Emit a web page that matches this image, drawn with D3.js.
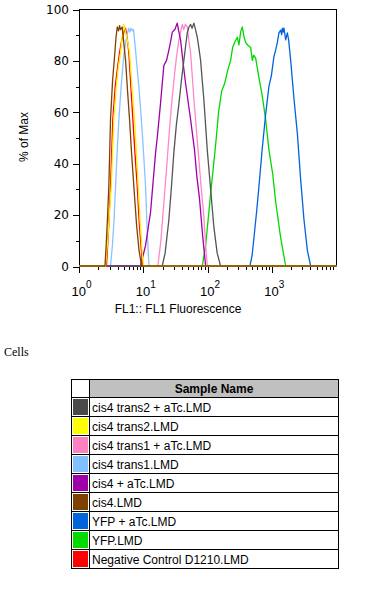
<!DOCTYPE html>
<html><head><meta charset="utf-8">
<script src="https://cdn.jsdelivr.net/npm/d3@7"></script>
<style>html,body{margin:0;padding:0;background:#fff;} svg{display:block;}</style>
</head><body>
<svg id="chart" width="380" height="589"></svg>
<script>
// ---- data (FL1 value, % of Max) ----
const sampleNames = [
  "cis4 trans2 + aTc.LMD",
  "cis4 trans2.LMD",
  "cis4 trans1 + aTc.LMD",
  "cis4 trans1.LMD",
  "cis4 + aTc.LMD",
  "cis4.LMD",
  "YFP + aTc.LMD",
  "YFP.LMD",
  "Negative Control D1210.LMD"
];
const sampleColors = ["#4a4a4a","#ffff00","#ff80c0","#80c0ff","#a000a8","#804000","#0064dc","#00d800","#ff0000"];
const lineColors   = ["#555555","#ffee00","#ff88c8","#88c4ff","#a000a8","#804000","#0064dc","#00d800","#ff0000"];

const cis4Trans2aTc = [[1,0],[19.4,0],[21.5,5],[24.6,18],[27,31],[29.4,44],[32.2,55],[35.2,63],[38.5,72],[42.1,80],[45,86],[47.6,90.7],[50.5,93],[53.6,94],[56.5,92.5],[60.3,94.5],[64,92],[68.1,89],[72,85],[76.7,80],[81.5,72],[86.3,64.6],[97.5,45],[109.8,30],[123.6,15],[139,5],[157,0],[10000,0]];
const cis4Trans2 = [[1,0],[2.54,0],[2.75,10],[2.95,22],[3.12,31],[3.42,57],[3.75,70],[4.05,78],[4.35,83],[4.65,90],[4.90,94],[5.20,91],[5.55,88],[6.01,83],[6.55,70],[7.19,57],[7.70,44],[8.21,31],[8.80,17],[9.48,5],[9.93,0],[10000,0]];
const cis4Trans1aTc = [[1,0],[16.59,0],[18.5,10],[20.55,24.5],[22.5,37],[24.6,50],[26.9,62],[29.4,72],[32.2,81],[35.2,88],[37.5,91],[39.8,94],[42,92],[44.5,94],[47.6,93],[50.8,87],[53.6,83],[60.3,65],[70.1,45],[78,31],[86.3,19],[92,8],[97.5,0],[10000,0]];
const cis4Trans1 = [[1,0],[3.04,0],[3.25,8],[3.45,18],[3.64,31],[3.85,44],[4.10,57],[4.45,70],[4.90,82],[5.30,88],[5.80,92.5],[6.05,91],[6.34,92.5],[6.65,91.5],[6.94,92],[7.45,84],[7.95,76],[8.39,70],[9.00,60],[9.48,52],[10.1,41],[10.67,31],[11.2,17],[11.75,5],[12.1,0],[10000,0]];
const cis4aTc = [[1,0],[8.92,0],[10.67,8],[12.76,21],[15.27,44],[16.23,50],[18.2,63],[20.55,78],[22.65,80],[24.6,84],[26.5,88],[27.8,91],[30.5,92],[33.2,94.5],[35.3,91],[37.4,88],[41,79],[44.8,71],[49,64],[53.6,57],[61.8,45],[67,35],[73.9,26],[82.4,12],[91.8,0],[10000,0]];
const cis4 = [[1,0],[2.49,0],[2.60,8],[2.72,18],[2.86,31],[3.04,57],[3.27,72],[3.55,83],[3.70,89],[3.87,93],[4.05,91.5],[4.20,93.5],[4.35,92],[4.62,93],[4.84,88],[5.21,80],[5.60,68],[6.01,57],[6.46,44],[7.01,31],[7.73,16],[8.45,6],[9.25,0],[10000,0]];
const yfpATc = [[1,0],[449,0],[485,4],[519,11],[570,21],[621,31],[701,46],[789,59],[889,70],[968,74],[1062,81.5],[1130,84],[1200,87],[1271,90.7],[1352,91.8],[1400,90],[1436,92.5],[1480,91],[1521,92.6],[1617,88],[1718,90.7],[1799,88],[1935,80],[2180,65],[2460,51.5],[2770,33.5],[3118,18],[3523,6],[3964,0],[10000,0]];
const yfp = [[1,0],[81.5,0],[91.8,8],[109.8,28],[131.3,47],[146.3,60],[162.9,68],[181.5,71],[202,76],[225,80],[241.7,85],[259.6,87],[285.9,89],[303,86],[322,91],[342,93],[365,89],[385,87],[414,86],[461,85],[490,80],[513,82],[551,81],[614,74],[701,66],[789,57],[889,45],[1014,36],[1130,25],[1352,11],[1617,0],[10000,0]];
const negControl = [[1,0],[2.63,0],[2.80,12],[3.04,31],[3.30,57],[3.60,70],[3.90,77],[4.20,83],[4.55,88],[4.90,91],[5.21,92.5],[5.50,89],[5.86,83],[6.30,70],[6.77,57],[7.30,44],[7.92,31],[8.50,17],[9.25,5],[9.58,0],[10000,0]];

const seriesData = [cis4Trans2aTc, cis4Trans2, cis4Trans1aTc, cis4Trans1, cis4aTc, cis4, yfpATc, yfp, negControl];
const drawOrder = [8, 7, 6, 3, 2, 4, 0, 1, 5];

const yTicks = [0, 20, 40, 60, 80, 100];
const yMinorTicks = [10, 30, 50, 70, 90];
const xDecades = [1, 10, 100, 1000];
const xExponents = ["0", "1", "2", "3"];
const xMinorTicks = [2,3,4,5,6,7,8,9,20,30,40,50,60,70,80,90,200,300,400,500,600,700,800,900,2000,3000,4000,5000,6000,7000,8000,9000];

// ---- drawing ----
const svg = d3.select("#chart");
const x = d3.scaleLog().domain([1, 10000]).range([79.5, 336.5]);
const y = d3.scaleLinear().domain([0, 100]).range([266.5, 9.5]);
const sans = "Liberation Sans, Arial, sans-serif";

// y ticks
svg.append("g").selectAll("line").data(yTicks).join("line")
  .attr("x1", 73).attr("x2", 79.5).attr("y1", d => Math.round(y(d)) + 0.5).attr("y2", d => Math.round(y(d)) + 0.5)
  .attr("stroke", "#000");
svg.append("g").selectAll("line").data(yMinorTicks).join("line")
  .attr("x1", 76).attr("x2", 79.5).attr("y1", d => Math.round(y(d)) + 0.5).attr("y2", d => Math.round(y(d)) + 0.5)
  .attr("stroke", "#000");
svg.append("g").selectAll("text").data(yTicks).join("text")
  .attr("x", 69).attr("y", d => y(d)).attr("dy", "0.36em")
  .attr("text-anchor", "end").attr("font-family", "DejaVu Sans, Verdana, sans-serif").attr("font-size", 12)
  .text(d => d);

// x ticks
svg.append("g").selectAll("line").data(xDecades).join("line")
  .attr("x1", d => Math.round(x(d) - 0.5) + 0.5).attr("x2", d => Math.round(x(d) - 0.5) + 0.5)
  .attr("y1", 266.5).attr("y2", 273).attr("stroke", "#000");
svg.append("g").selectAll("line").data(xMinorTicks).join("line")
  .attr("x1", d => Math.round(x(d) - 0.5) + 0.5).attr("x2", d => Math.round(x(d) - 0.5) + 0.5)
  .attr("y1", 266.5).attr("y2", 270).attr("stroke", "#000");
const xl = svg.append("g").selectAll("text").data(xDecades).join("text")
  .attr("x", d => x(d) - 8).attr("y", 296)
  .attr("font-family", sans).attr("font-size", 13);
xl.append("tspan").text("10");
xl.append("tspan").attr("dy", -8).attr("font-size", 10).text((d, i) => xExponents[i]);

// frame
svg.append("rect").attr("x", 79.5).attr("y", 9.5).attr("width", 257).attr("height", 257)
  .attr("fill", "none").attr("stroke", "#000").attr("stroke-width", 1);

// curves
const line = d3.line().x(d => x(d[0])).y(d => y(d[1]) - 0.5);
svg.append("g").selectAll("path").data(drawOrder).join("path")
  .attr("d", i => line(seriesData[i]))
  .attr("fill", "none").attr("stroke", i => lineColors[i]).attr("stroke-width", 1.3)
  .attr("stroke-linejoin", "round");

// axis titles
svg.append("text").attr("x", 178).attr("y", 313).attr("text-anchor", "middle")
  .attr("font-family", sans).attr("font-size", 12).text("FL1:: FL1 Fluorescence");
svg.append("text").attr("transform", "translate(28,137) rotate(-90)").attr("text-anchor", "middle")
  .attr("font-family", sans).attr("font-size", 12).text("% of Max");

// Cells label
svg.append("text").attr("x", 4).attr("y", 356).attr("font-family", "Liberation Serif, Times New Roman, serif")
  .attr("font-size", 12).text("Cells");

// legend table
const tL = 71.5, tR = 338.5, tC = 89.5, tTop = 379.5, hdrB = 397.5, rowH = 19;
const tBottom = hdrB + rowH * sampleNames.length;
svg.append("rect").attr("x", tC).attr("y", tTop).attr("width", tR - tC).attr("height", hdrB - tTop).attr("fill", "#c0c0c0");
svg.append("text").attr("x", (tC + tR) / 2).attr("y", tTop + 13.5).attr("text-anchor", "middle")
  .attr("font-family", sans).attr("font-size", 12).attr("font-weight", "bold").text("Sample Name");
const rows = svg.append("g").selectAll("g").data(sampleNames).join("g")
  .attr("transform", (d, i) => `translate(0,${hdrB + i * rowH})`);
rows.append("rect").attr("x", tL + 1.5).attr("y", 1.5).attr("width", tC - tL - 3).attr("height", rowH - 3)
  .attr("fill", (d, i) => sampleColors[i]);
rows.append("text").attr("x", 92).attr("y", 14.5).attr("font-family", sans).attr("font-size", 12)
  .text(d => d);
svg.append("g").selectAll("line").data(d3.range(sampleNames.length)).join("line")
  .attr("x1", tL).attr("x2", tR).attr("y1", i => hdrB + i * rowH).attr("y2", i => hdrB + i * rowH)
  .attr("stroke", "#000");
svg.append("line").attr("x1", tC).attr("x2", tC).attr("y1", tTop).attr("y2", tBottom).attr("stroke", "#000");
svg.append("rect").attr("x", tL).attr("y", tTop).attr("width", tR - tL).attr("height", tBottom - tTop)
  .attr("fill", "none").attr("stroke", "#000");
</script>
</body></html>
